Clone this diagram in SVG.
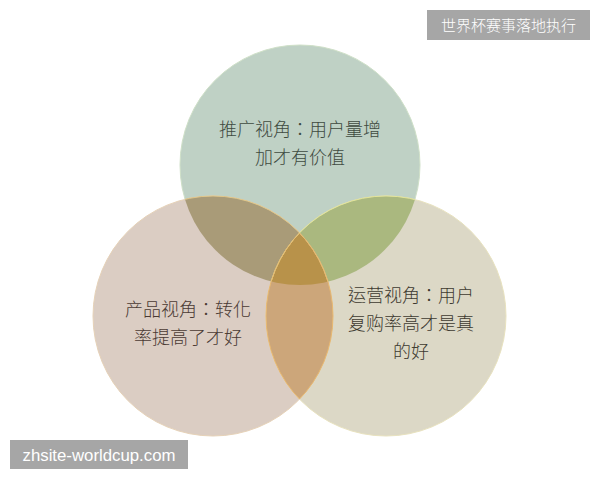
<svg xmlns="http://www.w3.org/2000/svg" width="600" height="480" viewBox="0 0 600 480">
<defs>
<clipPath id="cTop"><circle cx="300" cy="165" r="120"/></clipPath>
<clipPath id="cLeft"><circle cx="213" cy="316" r="120"/></clipPath>
<clipPath id="cRight"><circle cx="386" cy="316" r="120"/></clipPath>
<style>
.lbl{font-family:"Noto Sans CJK TC","Noto Sans CJK SC","Liberation Sans",sans-serif;font-size:18px;font-weight:300;text-anchor:middle}
.tag{font-family:"Noto Sans CJK SC","Liberation Sans",sans-serif;font-size:15px;font-weight:300;fill:#ffffff;text-anchor:middle}
.edge{fill:none;stroke-width:1}
</style>
</defs>
<rect width="600" height="480" fill="#ffffff"/>
<g id="circle-top">
<circle cx="300" cy="165" r="120" fill="#bfd1c5" stroke="#cfe0c8" stroke-width="1"/>
</g>
<g id="circle-left">
<circle cx="213" cy="316" r="120" fill="#dbcdc3" stroke="#e6d2b8" stroke-width="1"/>
</g>
<g id="circle-right">
<circle cx="386" cy="316" r="120" fill="#dcd8c6" stroke="#e8e2bf" stroke-width="1"/>
</g>
<g id="overlaps">
<g clip-path="url(#cTop)"><circle cx="213" cy="316" r="120" fill="#a99b78"/></g>
<g clip-path="url(#cTop)"><circle cx="386" cy="316" r="120" fill="#aab87f"/></g>
<g clip-path="url(#cLeft)"><circle cx="386" cy="316" r="120" fill="#cca67a"/></g>
<g clip-path="url(#cTop)"><g clip-path="url(#cLeft)"><circle cx="386" cy="316" r="120" fill="#b8924a"/></g></g>
<g clip-path="url(#cTop)"><circle class="edge" cx="213" cy="316" r="120" stroke="#e0c78a"/><circle class="edge" cx="386" cy="316" r="120" stroke="#e2e49a"/></g>
<g clip-path="url(#cLeft)"><circle class="edge" cx="386" cy="316" r="120" stroke="#e8b870"/></g>
<g clip-path="url(#cRight)"><circle class="edge" cx="213" cy="316" r="120" stroke="#e8b870"/></g>
</g>
<g id="text-top" fill="#3e4a3f">
<text class="lbl" x="300" y="136">推广视角：用户量增</text>
<text class="lbl" x="300" y="164">加才有价值</text>
</g>
<g id="text-left" fill="#4a3a33">
<text class="lbl" x="188" y="316">产品视角：转化</text>
<text class="lbl" x="188" y="344">率提高了才好</text>
</g>
<g id="text-right" fill="#3e3a30">
<text class="lbl" x="411" y="302">运营视角：用户</text>
<text class="lbl" x="411" y="330">复购率高才是真</text>
<text class="lbl" x="411" y="358">的好</text>
</g>
<g id="tag-top">
<rect x="427" y="10" width="163" height="30" fill="#a6a6a6"/>
<text class="tag" x="508.5" y="31">世界杯赛事落地执行</text>
</g>
<g id="tag-bottom">
<rect x="10" y="440" width="178" height="29" fill="#a6a6a6"/>
<text x="99" y="461" font-family="'Liberation Sans',Arial,sans-serif" font-size="16.8" fill="#ffffff" text-anchor="middle">zhsite-worldcup.com</text>
</g>
</svg>
